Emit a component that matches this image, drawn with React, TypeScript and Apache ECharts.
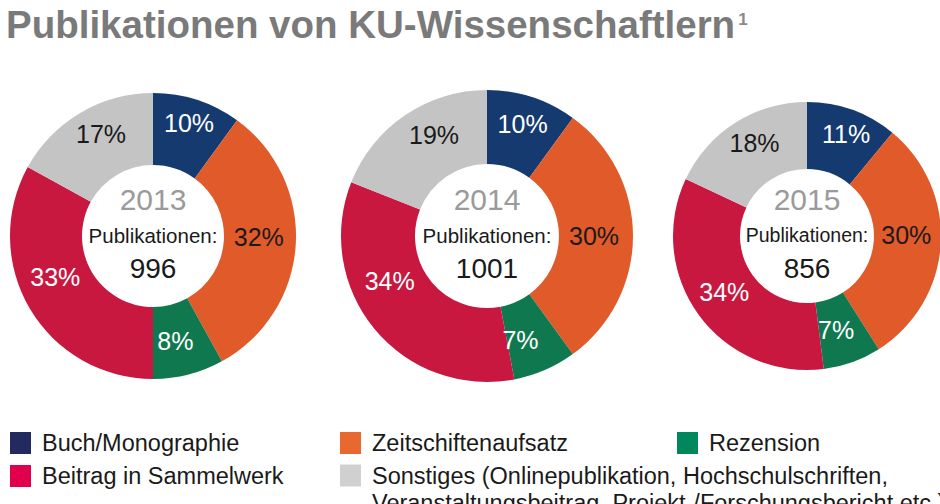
import React, { useEffect, useRef } from "react";
import * as echarts from "echarts";

const categories = ["Buch/Monographie", "Zeitschiftenaufsatz", "Rezension", "Beitrag in Sammelwerk", "Sonstiges"];
const years = ["2013", "2014", "2015"];
const totals = [996, 1001, 856];
const shares2013 = [10, 32, 8, 33, 17];
const shares2014 = [10, 30, 7, 34, 19];
const shares2015 = [11, 30, 7, 34, 18];
const sonstigesLine1 = "Sonstiges (Onlinepublikation, Hochschulschriften,";
const sonstigesLine2 = "Veranstaltungsbeitrag, Projekt-/Forschungsbericht etc.)";
const titleText = "Publikationen von KU-Wissenschaftlern";
const centerCaption = "Publikationen:";

const sliceColors = ["#143a70", "#e05a2a", "#10784f", "#c8183f", "#c4c4c4"];
const legendColors = ["#232a5f", "#e8682f", "#00875c", "#e0004e", "#d0d0d0"];
const labelColors = ["#ffffff", "#1a1a1a", "#ffffff", "#ffffff", "#1a1a1a"];

const FONT = "'Liberation Sans', Arial, Helvetica, sans-serif";

const layouts = [
  { center: [153, 236], radius: [71, 143] },
  { center: [487, 236], radius: [72, 146] },
  { center: [807, 236], radius: [67, 134] },
];

// small nudges of the percentage labels, as placed in the original layout
const labelNudges = [
  [[2, -8], [-4, -6], [-5, -2], [-3, -15], [4, -7]],
  [[1, -5], [-5, 0], [-11, 1], [-11, -26], [10, -8]],
  [[4, -5], [-4, -7], [-6, -3], [1, -5], [3, -6]],
];

export default function App() {
  const ref = useRef<HTMLDivElement>(null);
  useEffect(() => {
    if (!ref.current) return;
    const chart = echarts.init(ref.current, undefined, { renderer: "svg" });
    const allShares = [shares2013, shares2014, shares2015];

    const series = allShares.map((shares, si) => ({
      type: "pie",
      name: years[si],
      center: layouts[si].center,
      radius: layouts[si].radius,
      startAngle: 90,
      clockwise: true,
      silent: true,
      avoidLabelOverlap: false,
      itemStyle: { borderWidth: 0 },
      labelLine: { show: false },
      label: {
        show: true,
        position: "inside",
        formatter: "{c}%",
        fontFamily: FONT,
        fontSize: 25,
      },
      data: shares.map((v, i) => ({
        name: categories[i],
        value: v,
        itemStyle: { color: sliceColors[i] },
        label: { color: labelColors[i], offset: labelNudges[si][i] },
      })),
    }));

    const graphics: any[] = [];
    layouts.forEach((l, i) => {
      const [cx, cy] = l.center;
      graphics.push(
        { type: "text", x: cx, y: cy - 37, style: { text: years[i], fill: "#9a9a9a", font: `30px ${FONT}`, textAlign: "center", textVerticalAlign: "middle" } },
        { type: "text", x: cx, y: cy - 1, style: { text: centerCaption, fill: "#1a1a1a", font: `${i === 2 ? 19.5 : 20.5}px ${FONT}`, textAlign: "center", textVerticalAlign: "middle" } },
        { type: "text", x: cx, y: cy + 32, style: { text: String(totals[i]), fill: "#1a1a1a", font: `28px ${FONT}`, textAlign: "center", textVerticalAlign: "middle" } }
      );
    });

    const legendText = { fontFamily: FONT, fontSize: 23.5, color: "#1a1a1a", padding: [0, 0, 0, 6] };
    const legendBase = {
      icon: "rect",
      itemWidth: 21,
      itemHeight: 22,
      selectedMode: false,
      orient: "vertical",
      itemGap: 9,
      padding: 0,
      itemStyle: { borderWidth: 0 },
      textStyle: legendText,
    };
    const legendItem = (i: number) => ({ name: categories[i], itemStyle: { color: legendColors[i] } });

    chart.setOption({
      animation: false,
      backgroundColor: "#ffffff",
      title: {
        left: 6,
        top: 5,
        padding: 0,
        text: `{t|${titleText}}{s|1}`,
        textStyle: {
          rich: {
            t: { fontFamily: FONT, fontWeight: "bold", fontSize: 38.5, color: "#7a7a7a" },
            s: { fontFamily: FONT, fontSize: 17, color: "#8a8a8a", verticalAlign: "top", padding: [6, 0, 0, 3] },
          },
        },
      },
      legend: [
        { ...legendBase, left: 10, top: 431, data: [legendItem(0), legendItem(3)] },
        { ...legendBase, left: 340, top: 431, data: [legendItem(1)] },
        { ...legendBase, left: 677, top: 431, data: [legendItem(2)] },
        {
          ...legendBase,
          left: 340,
          top: 435,
          data: [legendItem(4)],
          formatter: () => `\n${sonstigesLine1}\n${sonstigesLine2}`,
          textStyle: { ...legendText, lineHeight: 27 },
        },
      ],
      graphic: graphics,
      series,
    });
    return () => chart.dispose();
  }, []);
  return <div ref={ref} style={{ position: "fixed", left: 0, top: 0, width: 940, height: 504 }} />;
}
